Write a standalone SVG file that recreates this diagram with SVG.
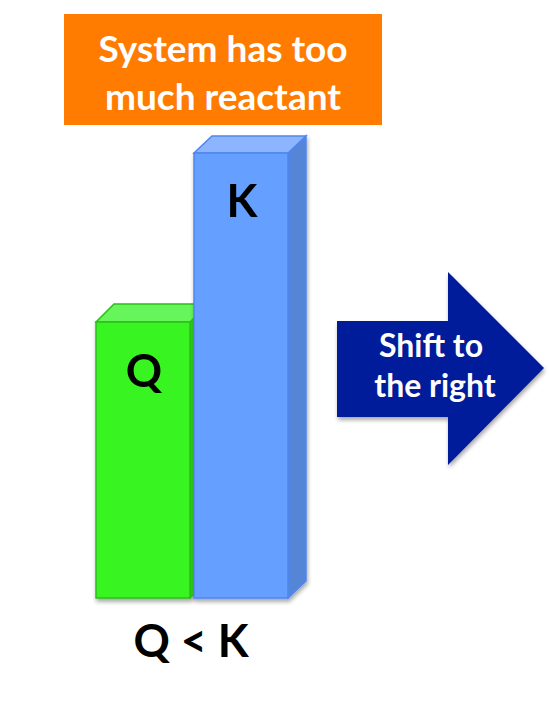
<svg xmlns="http://www.w3.org/2000/svg" width="551" height="701" viewBox="0 0 551 701">
<defs>
<style>
.lbl{font-family:Lato,"Liberation Sans",sans-serif;font-weight:bold;}
.w{fill:#ffffff;}
.k{fill:#000000;}
</style>
<filter id="sh" x="-10%" y="-10%" width="130%" height="130%">
<feGaussianBlur in="SourceAlpha" stdDeviation="2"/>
<feOffset dx="1" dy="3" result="b"/>
<feComponentTransfer><feFuncA type="linear" slope="0.35"/></feComponentTransfer>
<feMerge><feMergeNode/><feMergeNode in="SourceGraphic"/></feMerge>
</filter>
</defs>
<rect width="551" height="701" fill="#ffffff"/>
<g id="title">
<rect x="64" y="14" width="318" height="111" fill="#FF7C00"/>
<text class="lbl w" x="223" y="62" font-size="37" text-anchor="middle">System has too</text>
<text class="lbl w" x="223" y="110" font-size="37" text-anchor="middle">much reactant</text>
</g>
<g id="barQ" filter="url(#sh)">
<polygon points="190,322 208,304 208,580 190,598" fill="#2FCC1C" stroke="#2DBE1A" stroke-width="1.5"/>
<polygon points="96,322 114,304 208,304 190,322" fill="#66F55A" stroke="#2DBE1A" stroke-width="1.5"/>
<rect x="96" y="322" width="94" height="276" fill="#38F522" stroke="#2DBE1A" stroke-width="1.5"/>
<text class="lbl k" x="144" y="387" font-size="45" text-anchor="middle">Q</text>
</g>
<g id="barK" filter="url(#sh)">
<polygon points="288,153 306,136 306,581 288,598" fill="#5585D6" stroke="#4F86F0" stroke-width="1.5"/>
<polygon points="194,153 212,136 306,136 288,153" fill="#8CB4FF" stroke="#4F86F0" stroke-width="1.5"/>
<rect x="194" y="153" width="94" height="445" fill="#659FFF" stroke="#4F86F0" stroke-width="1.5"/>
<text class="lbl k" x="242" y="217" font-size="45" text-anchor="middle">K</text>
</g>
<g id="relation">
<text class="lbl k" x="191" y="657" font-size="45" text-anchor="middle">Q &lt; K</text>
</g>
<g id="arrow">
<polygon points="337,321 448,321 448,272 544,368 448,465 448,417 337,417" fill="#001A9A" filter="url(#sh)"/>
<text class="lbl w" x="431" y="357" font-size="32" text-anchor="middle">Shift to</text>
<text class="lbl w" x="435" y="397" font-size="32" text-anchor="middle">the right</text>
</g>
</svg>
